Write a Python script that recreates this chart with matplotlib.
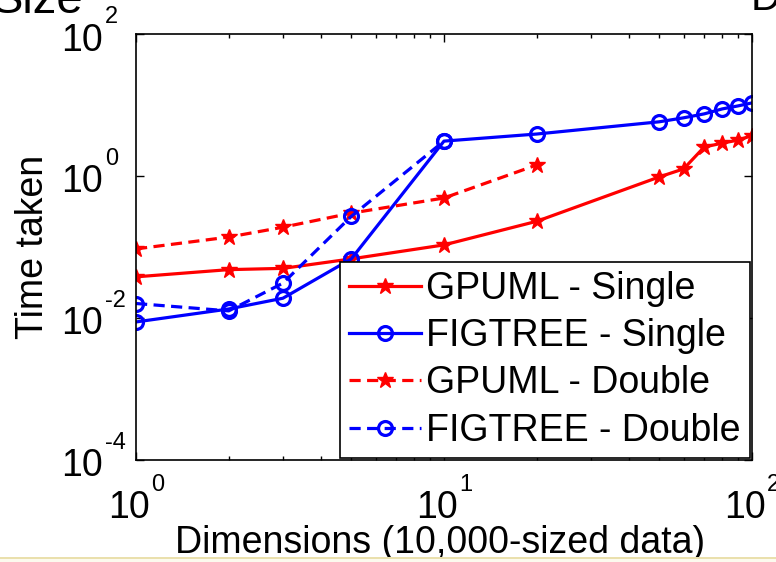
import matplotlib
matplotlib.use("Agg")
import matplotlib.pyplot as plt
from matplotlib.patches import Rectangle
from matplotlib.ticker import NullLocator
from matplotlib.transforms import offset_copy

plt.rcParams['font.family'] = ['Liberation Sans', 'DejaVu Sans']

# dimensions of the 10,000-sized data
dims_full = [1, 2, 3, 5, 10, 20, 50, 60, 70, 80, 90, 100]
dims_double = [1, 2, 3, 5, 10, 20]
dims_fig_double = [1, 2, 3, 5, 10]

gpuml_single = [0.038, 0.048, 0.050, 0.068, 0.107, 0.23, 0.97, 1.26, 2.56, 2.9, 3.2, 3.7]
figtree_single = [0.0088, 0.0134, 0.019, 0.068, 3.1, 3.9, 5.8, 6.6, 7.5, 8.8, 9.7, 10.7]
gpuml_double = [0.094, 0.138, 0.19, 0.30, 0.49, 1.43]
figtree_double = [0.016, 0.0126, 0.031, 0.27, 3.1]

x_ticks = [1, 10, 100]
x_exps = ['0', '1', '2']
y_ticks = [1e-4, 1e-2, 1e0, 1e2]
y_exps = ['-4', '-2', '0', '2']

RED = '#ff0000'
BLUE = '#0000ff'
FS = 27
FS_EXP = 17

fig = plt.figure(figsize=(7.76, 5.62), dpi=100)
ax = fig.add_axes([0.1753, 0.1815, 0.7937, 0.758])

lw = 2.3
ax.plot(dims_full, gpuml_single, '-', color=RED, lw=lw, marker='*', ms=12,
        label='GPUML - Single')
ax.plot(dims_full, figtree_single, '-', color=BLUE, lw=lw, marker='o', ms=10,
        mfc='none', mew=2.3, label='FIGTREE - Single')
ax.plot(dims_double, gpuml_double, '--', color=RED, lw=lw, marker='*', ms=12,
        dashes=(3.5, 2), label='GPUML - Double')
ax.plot(dims_fig_double, figtree_double, '--', color=BLUE, lw=lw, marker='o', ms=10,
        mfc='none', mew=2.3, dashes=(3.5, 2), label='FIGTREE - Double')

ax.set_xscale('log')
ax.set_yscale('log')
ax.set_xlim(1, 100)
ax.set_ylim(1e-4, 1e2)
ax.set_xticks(x_ticks)
ax.set_yticks(y_ticks)
ax.yaxis.set_minor_locator(NullLocator())

ax.tick_params(which='both', direction='in', top=True, right=True,
               labelbottom=False, labelleft=False, width=1)
ax.tick_params(which='major', length=6)
ax.tick_params(which='minor', length=3)
for s in ax.spines.values():
    s.set_linewidth(1.2)

# MATLAB-style power labels: "10" with a raised exponent
xt = ax.get_xaxis_transform()
for v, e in zip(x_ticks, x_exps):
    ax.text(v, 0, '10', fontsize=FS, ha='left', va='baseline', clip_on=False,
            transform=offset_copy(xt, fig=fig, x=-28, y=-58.5, units='dots'))
    ax.text(v, 0, e, fontsize=FS_EXP, ha='left', va='baseline', clip_on=False,
            transform=offset_copy(xt, fig=fig, x=15, y=-31, units='dots'))
yt = ax.get_yaxis_transform()
for v, e in zip(y_ticks, y_exps):
    ax.text(0, v, '10', fontsize=FS, ha='right', va='baseline', clip_on=False,
            transform=offset_copy(yt, fig=fig, x=-33, y=-16.5, units='dots'))
    ax.text(0, v, e, fontsize=FS_EXP, ha='left', va='baseline', clip_on=False,
            transform=offset_copy(yt, fig=fig, x=-31, y=11, units='dots'))

ax.set_xlabel('Dimensions (10,000-sized data)', fontsize=FS, va='baseline')
ax.xaxis.set_label_coords(0.4935, -0.2188)
ax.set_ylabel('Time taken', fontsize=FS, va='baseline')
ax.yaxis.set_label_coords(-0.151, 0.5)

leg = ax.legend(loc='lower right', fontsize=FS, frameon=True, fancybox=False,
                borderaxespad=0.05, handlelength=1.9, handletextpad=0.15,
                labelspacing=0.3, borderpad=0.25)
leg.get_frame().set_edgecolor('black')
leg.get_frame().set_linewidth(1.2)
leg.get_frame().set_alpha(1)

# cropped fragments from the surrounding slide
fig.text(84 / 776, 1 - 13 / 562, 'Size', fontsize=34, ha='right', va='baseline')
fig.text(751 / 776, 1 - 10 / 562, 'D', fontsize=30, ha='left', va='baseline')
fig.patches.append(Rectangle((0, 0), 1, 5 / 562, transform=fig.transFigure,
                             facecolor='#fcfaee', edgecolor='none'))
fig.patches.append(Rectangle((0, 3 / 562), 1, 2 / 562, transform=fig.transFigure,
                             facecolor='#eae0ad', edgecolor='none'))

fig.savefig('out.png', dpi=100)
